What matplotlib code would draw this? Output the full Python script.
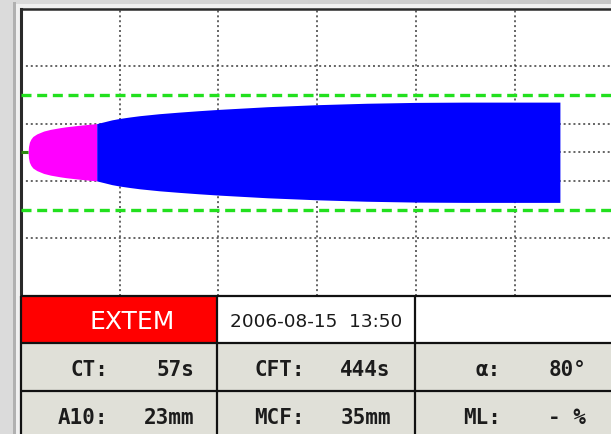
import numpy as np
import matplotlib
matplotlib.use("Agg")
import matplotlib.pyplot as plt
from matplotlib.patches import Rectangle

# ---- measurement data -------------------------------------------------------
assay = "EXTEM"
timestamp = "2006-08-15  13:50"

# clot amplitude envelope (total amplitude, mm) over run time (min)
time_min = [0.72, 0.76, 0.85, 1.00, 1.20, 1.60, 2.30, 3.00, 4.00, 4.60, 6.00, 7.67,
            8.50, 9.20, 10.0, 11.0, 12.0, 14.0, 16.0, 18.0, 20.0, 25.0, 30.0, 35.0,
            40.0, 45.0, 50.0, 54.6]
amplitude_mm = [0.0, 4.0, 7.0, 9.2, 11.0, 12.8, 14.8, 16.0, 17.2, 17.8, 18.9, 20.0,
                21.4, 22.6, 23.6, 24.6, 25.5, 26.9, 28.0, 29.0, 29.9, 31.8, 33.2, 34.2,
                34.8, 35.0, 35.0, 35.0]

cft_threshold_mm = 20          # amplitude that ends the clot formation phase
reference_band_mm = [-20, 20]  # green reference lines

# parameter table: (label, value) per row, three columns
param_labels = [["CT:", "CFT:", "\u03b1:"],
                ["A10:", "MCF:", "ML:"]]
param_values = [["57s", "444s", "80\u00b0"],
                ["23mm", "35mm", "- %"]]

# ---- figure -----------------------------------------------------------------
W, H = 611, 435
fig = plt.figure(figsize=(W / 100, H / 100), dpi=100)


def px_axes(x0, y0, x1, y1, **kw):
    return fig.add_axes([x0 / W, 1 - y1 / H, (x1 - x0) / W, (y1 - y0) / H], **kw)


# backdrop with the window border
bg = px_axes(0, 0, W, H)
bg.set_xlim(0, W)
bg.set_ylim(H, 0)
bg.axis("off")
grad = np.linspace(0.86, 0.78, 256)[None, :]
bg.imshow(np.dstack([grad, grad, grad]), extent=(0, W, H, 0), aspect="auto")
bg.add_patch(Rectangle((13, 3), 3, H, color="#b0b0b0", lw=0))
bg.add_patch(Rectangle((16, 5), W, H, color="#f0f0f0", lw=0))

# ---- thromboelastogram ------------------------------------------------------
ax = px_axes(21, 10, 613.2, 296.5)
ax.set_xlim(0, 60)
ax.set_ylim(-50, 50)
ax.set_facecolor("white")

t = np.array(time_min)
a = np.array(amplitude_mm)
half = a / 2
k = int(np.argmax(a >= cft_threshold_mm))

# reference grid
for gx in [10, 20, 30, 40, 50]:
    ax.axvline(gx, color="#3a3a3a", lw=1.1, ls=(0, (1.3, 1.9)), zorder=1)
for gy in [-30, -10, 0, 10, 30]:
    ax.axhline(gy, color="#3a3a3a", lw=1.1, ls=(0, (1.3, 1.9)), zorder=1)
for gy in reference_band_mm:
    ax.axhline(gy, color="#22e01e", lw=2.4, ls=(0, (3.0, 1.7)), zorder=4)

# baseline before coagulation starts
ax.plot([0, t[0]], [0, 0], color="#2c8a10", lw=2.2, zorder=3, solid_capstyle="butt")
# clot formation phase and subsequent firmness
ax.fill_between(t[:k + 1], -half[:k + 1], half[:k + 1], color="#ff00ff", lw=0, zorder=2)
ax.fill_between(t[k:], -half[k:], half[k:], color="#0000ff", lw=0, zorder=2)

ax.set_xticks([])
ax.set_yticks([])
for side in ["left", "top"]:
    ax.spines[side].set_color("#2a2a2a")
ax.spines["left"].set_linewidth(2.2)
ax.spines["top"].set_linewidth(1.8)
ax.spines["right"].set_visible(False)
ax.spines["bottom"].set_visible(False)

# ---- parameter table --------------------------------------------------------
tb = px_axes(0, 0, W, H)
tb.set_xlim(0, W)
tb.set_ylim(H, 0)
tb.axis("off")

col_x = [21, 216.7, 415, 640]
row_y = [296.7, 344.3, 391.7, 440]
cell_bg = "#e0e0d8"

tb.add_patch(Rectangle((col_x[0], row_y[0]), col_x[1] - col_x[0], row_y[1] - row_y[0],
                       facecolor="#ff0000", lw=0))
tb.add_patch(Rectangle((col_x[1], row_y[0]), col_x[3] - col_x[1], row_y[1] - row_y[0],
                       facecolor="white", lw=0))
tb.add_patch(Rectangle((col_x[0], row_y[1]), col_x[3] - col_x[0], row_y[3] - row_y[1],
                       facecolor=cell_bg, lw=0))
for yy in row_y[:3]:
    tb.plot([col_x[0], W], [yy, yy], color="#111111", lw=1.6, solid_capstyle="butt")
for xx in col_x[:3]:
    tb.plot([xx, xx], [row_y[0], H], color="#111111", lw=1.6, solid_capstyle="butt")

tb.text(132, 322, assay, color="white", fontsize=18, ha="center", va="center",
        family="DejaVu Sans")
tb.text(316, 322, timestamp, color="#1a1a1a", fontsize=13.3, ha="center", va="center",
        family="DejaVu Sans")

text_y = [370, 418]
label_dx = [87, 88, 86]
value_dx = [173.5, 174, 171]
for r in range(2):
    for c in range(3):
        tb.text(col_x[c] + label_dx[c], text_y[r], param_labels[r][c], color="#1c1c1c",
                fontsize=15, ha="right", va="center", family="DejaVu Sans Mono",
                fontweight="bold")
        tb.text(col_x[c] + value_dx[c], text_y[r], param_values[r][c], color="#1c1c1c",
                fontsize=15, ha="right", va="center", family="DejaVu Sans Mono",
                fontweight="bold")

fig.savefig("out.png", dpi=100)
